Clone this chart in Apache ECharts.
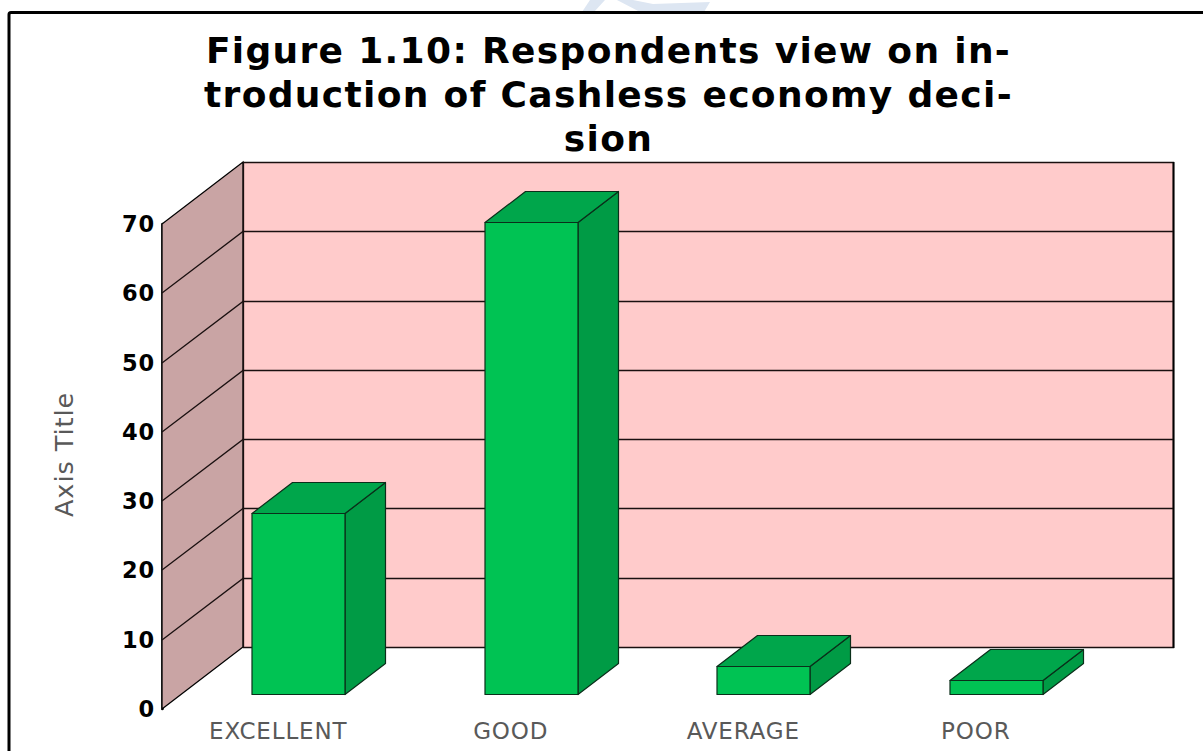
<!DOCTYPE html>
<html><head><meta charset="utf-8">
<style>html,body{margin:0;padding:0;background:#fff}#c{width:1203px;height:751px}#c text{letter-spacing:.037em}</style>
<script src="https://cdn.jsdelivr.net/npm/echarts@6/dist/echarts.min.js"></script>
</head><body><div id="c"></div>
<script>
const categories = ['EXCELLENT','GOOD','AVERAGE','POOR'];
const values = [26,68,4,2];
const yTicks = [0,10,20,30,40,50,60,70];
const titleLines = ['Figure 1.10: Respondents view on in-','troduction of Cashless economy deci-','sion'];

const DX = 81, DY = -62;          // full depth of the 3D box
const BAR_X = 20.5, BAR_Y = -15.5;  // bar front plane offset from the axis plane
const BAR_DX = 40.5, BAR_DY = -31;// bar depth
const BAR_W = 93;
const EDGE = '#0a2f1a';

const chart = echarts.init(document.getElementById('c'), null, {renderer:'svg'});

function wallItem(params, api){
  const cs = params.coordSys;
  const l = cs.x, r = cs.x + cs.width, t = cs.y, b = cs.y + cs.height;
  const bx = r + DX + 0.5;
  return {type:'group', children:[
    {type:'polygon', shape:{points:[[l,b],[l+DX,b+DY],[l+DX,t+DY],[l,t]]},
     style:{fill:'#C9A4A4', stroke:'#000', lineWidth:1.3}},
    {type:'rect', shape:{x:l+DX+0.5,y:t+DY+0.5,width:cs.width,height:cs.height},
     style:{fill:'#FFCBCB', stroke:'#1a1010', lineWidth:1.3}},
    {type:'line', shape:{x1:bx,y1:t+DY,x2:bx,y2:b+DY+1}, style:{stroke:'#000', lineWidth:2}}
  ]};
}
function gridItem(params, api){
  const cs = params.coordSys;
  const y = Math.round(api.coord([0, api.value(0)])[1]);
  const l = cs.x, r = cs.x + cs.width;
  const by = y + DY + 0.5;
  return {type:'polyline', shape:{points:[[l,y],[l+DX,by],[r+DX,by]]},
    style:{fill:null, stroke:'#1a1010', lineWidth:1.3}};
}
function barItem(params, api){
  const p = api.coord([api.value(0), api.value(1)]);
  const p0 = api.coord([api.value(0), 0]);
  const x0 = Math.round(p[0] + BAR_X - BAR_W/2), x1 = x0 + BAR_W;
  const yt = Math.round(p[1] + BAR_Y) + 0.5, yb = Math.round(p0[1] + BAR_Y) + 0.5;
  const s = {stroke:EDGE, lineWidth:1.2, lineJoin:'round'};
  return {type:'group', children:[
    {type:'polygon', shape:{points:[[x1,yt],[x1+BAR_DX,yt+BAR_DY],[x1+BAR_DX,yb+BAR_DY],[x1,yb]]},
     style:Object.assign({fill:'#009B45'}, s)},
    {type:'polygon', shape:{points:[[x0,yt],[x0+BAR_DX,yt+BAR_DY],[x1+BAR_DX,yt+BAR_DY],[x1,yt]]},
     style:Object.assign({fill:'#00A64B'}, s)},
    {type:'rect', shape:{x:x0,y:yt,width:BAR_W,height:yb-yt},
     style:Object.assign({fill:'#00C353'}, s)}
  ]};
}

chart.setOption({
  animation:false,
  backgroundColor:'#fff',
  title:{
    text:titleLines.join('\n'), left:603.5, top:23.5, textAlign:'center',
    textStyle:{fontFamily:'DejaVu Sans', fontWeight:'bold', fontSize:36, lineHeight:44, color:'#000'}
  },
  grid:{left:162, top:224, width:930, height:485},
  xAxis:{type:'category', data:categories, axisLine:{show:false}, axisTick:{show:false},
    axisLabel:{fontFamily:'DejaVu Sans', fontSize:23, color:'#595959', margin:10, interval:0}},
  yAxis:{type:'value', min:0, max:70, interval:10, splitLine:{show:false}, axisTick:{show:false},
    axisLine:{show:true, lineStyle:{color:'#000', width:2.5}},
    axisLabel:{fontFamily:'DejaVu Sans', fontWeight:'bold', fontSize:22.5, color:'#000', margin:7, padding:[6,0,0,0]},
    name:'Axis Title', nameLocation:'middle', nameGap:85, nameRotate:90,
    nameTextStyle:{fontFamily:'DejaVu Sans', fontSize:25.5, color:'#595959', padding:[0,0,0,24]}},
  graphic:[
    {type:'polygon', silent:true, z:-2, shape:{points:[[582,12],[590,0],[605,0],[594,12]]}, style:{fill:'#DDE6F2'}},
    {type:'polygon', silent:true, z:-2, shape:{points:[[617,0],[633,0],[653,4],[710,2],[704,12],[640,12]]}, style:{fill:'#DDE6F2'}},
    {type:'rect', silent:true, z:-1, shape:{x:9,y:12.5,width:1400,height:900,r:2},
     style:{fill:'none', stroke:'#000', lineWidth:3}}
  ],
  series:[
    {type:'custom', z:1, coordinateSystem:'cartesian2d', data:[[0]], renderItem:wallItem, silent:true,
     encode:{x:0}},
    {type:'custom', z:2, coordinateSystem:'cartesian2d', data:yTicks.filter(v=>v>0&&v<70).map(v=>[v]),
     renderItem:gridItem, silent:true, encode:{y:0}, clip:false},
    {type:'custom', z:3, coordinateSystem:'cartesian2d', clip:false,
     data:values.map((v,i)=>[i,v]), renderItem:barItem, encode:{x:0,y:1}}
  ]
});
</script></body></html>
